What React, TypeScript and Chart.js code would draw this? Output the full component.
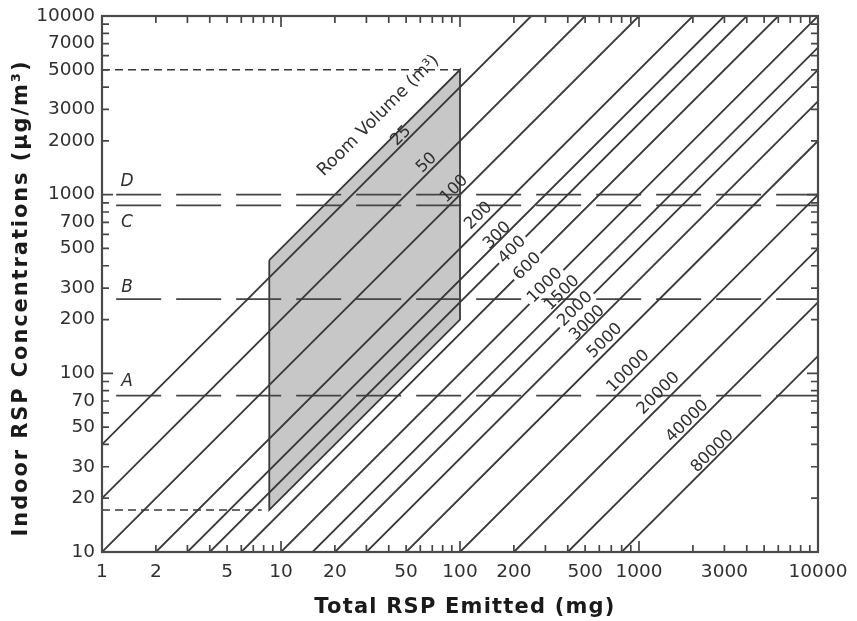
import { useEffect, useRef } from 'react';
import { Chart, registerables } from 'chart.js';

Chart.register(...registerables);

// Room volumes (m³) for the iso-volume lines
const roomVolumes = [25, 50, 100, 200, 300, 400, 600, 1000, 1500, 2000, 3000, 5000, 10000, 20000, 40000, 80000];
// Emitted mass (mg) along each volume line at which its label sits
const volumeLabelAtMg = [50, 70, 100, 139, 169, 196, 238, 304, 396, 449, 543, 700, 946, 1408, 2004, 2742];

// Reference concentration levels (µg/m³)
const levelNames = ['A', 'B', 'C', 'D'];
const levelValues = [75, 260, 870, 1000];

// Shaded band: emitted mass range (mg) and room volume range (m³)
const emittedRange = [8.6, 100];
const volumeRange = [20, 500];
// Where the short dashed guides end (mg): upper guide, lower guide
const guideEndMg = [100, 7.8];

// Axis tick labels
const xTickValues = [1, 2, 5, 10, 20, 50, 100, 200, 500, 1000, 3000, 10000];
const yTickValues = [10, 20, 30, 50, 70, 100, 200, 300, 500, 700, 1000, 2000, 3000, 5000, 7000, 10000];

// µg/m³ produced by `mg` milligrams dispersed in `m3` cubic metres
const conc = (mg: number, m3: number) => (1000 * mg) / m3;
const mgFor = (c: number, m3: number) => (c * m3) / 1000;

// --- styling ---
const ink = '#383838';
const textInk = '#303030';
const fontFamily = '"DejaVu Sans", sans-serif';
const labelLift = [7, 8, 8, 10, 5, 0, 0, 2, 7, 2, 6, 9, 9, 10, 8, 7];
const levelLetterOffset = [-14, -12, 17, -13];
const levelLetterMg = 1.38;

const lineStyle = { showLine: true, pointRadius: 0, pointHoverRadius: 0, borderColor: ink, borderWidth: 1.8 };

function buildDatasets() {
  const [e0, e1] = emittedRange;
  const [vMin, vMax] = volumeRange;
  const region = [
    { x: e0, y: conc(e0, vMin) },
    { x: e1, y: conc(e1, vMin) },
    { x: e1, y: conc(e1, vMax) },
    { x: e0, y: conc(e0, vMax) },
    { x: e0, y: conc(e0, vMin) },
  ];
  const sets: any[] = [
    { ...lineStyle, data: region, fill: 'shape', backgroundColor: '#c7c7c7', order: 5 },
  ];
  roomVolumes.forEach((v) => {
    sets.push({ ...lineStyle, data: [{ x: mgFor(10, v), y: 10 }, { x: mgFor(10000, v), y: 10000 }], order: 1 });
  });
  levelValues.forEach((c) => {
    sets.push({ ...lineStyle, borderColor: '#444444', borderDash: [45, 15], data: [{ x: 1.2, y: c }, { x: 10000, y: c }], order: 2 });
  });
  const upper = conc(e1, vMin);
  const lower = conc(e0, vMax);
  sets.push({ ...lineStyle, borderWidth: 1.5, borderDash: [8, 5], data: [{ x: 1, y: upper }, { x: guideEndMg[0], y: upper }], order: 2 });
  sets.push({ ...lineStyle, borderWidth: 1.5, borderDash: [8, 5], data: [{ x: 1, y: lower }, { x: guideEndMg[1], y: lower }], order: 2 });
  return sets;
}

const overlay = {
  id: 'overlay',
  afterDatasetsDraw(chart: any) {
    const { ctx, chartArea: a, scales } = chart;
    const x = scales.x;
    const y = scales.y;
    ctx.save();

    // inward tick marks on all four sides
    ctx.strokeStyle = '#454545';
    ctx.lineWidth = 1.7;
    ctx.beginPath();
    for (let d = 1; d < 10000; d *= 10) {
      for (let m = 1; m <= 9; m++) {
        const v = d * m;
        if (v <= 1 || v >= 10000) continue;
        const px = x.getPixelForValue(v);
        const len = m === 1 ? 11 : 7;
        ctx.moveTo(px, a.bottom);
        ctx.lineTo(px, a.bottom - len);
        ctx.moveTo(px, a.top);
        ctx.lineTo(px, a.top + len);
      }
    }
    for (let d = 10; d < 10000; d *= 10) {
      for (let m = 1; m <= 9; m++) {
        const v = d * m;
        if (v <= 10 || v >= 10000) continue;
        const py = y.getPixelForValue(v);
        const len = m === 1 ? 11 : 7;
        ctx.moveTo(a.left, py);
        ctx.lineTo(a.left + len, py);
        ctx.moveTo(a.right, py);
        ctx.lineTo(a.right - len, py);
      }
    }
    ctx.stroke();

    // frame
    ctx.strokeStyle = '#4a4a4a';
    ctx.lineWidth = 2.2;
    ctx.strokeRect(a.left, a.top, a.right - a.left, a.bottom - a.top);

    // volume labels along each line
    ctx.font = `16.5px ${fontFamily}`;
    ctx.textAlign = 'center';
    ctx.textBaseline = 'middle';
    roomVolumes.forEach((v, i) => {
      const mg = volumeLabelAtMg[i];
      const px = x.getPixelForValue(mg);
      const py = y.getPixelForValue(conc(mg, v));
      const qx = x.getPixelForValue(mg * 10);
      const qy = y.getPixelForValue(conc(mg * 10, v));
      const ang = Math.atan2(qy - py, qx - px);
      const lift = labelLift[i];
      const txt = String(v);
      ctx.save();
      ctx.translate(px, py);
      ctx.rotate(ang);
      if (lift < 3) {
        const w = ctx.measureText(txt).width;
        ctx.fillStyle = '#ffffff';
        ctx.fillRect(-w / 2 - 3, -lift - 7, w + 6, 14);
      }
      ctx.fillStyle = textInk;
      ctx.fillText(txt, 0, -lift);
      ctx.restore();
    });

    // band caption along its upper edge
    {
      const mg = 44;
      const v = volumeRange[0];
      const px = x.getPixelForValue(mg);
      const py = y.getPixelForValue(conc(mg, v));
      const qx = x.getPixelForValue(mg * 10);
      const qy = y.getPixelForValue(conc(mg * 10, v));
      ctx.save();
      ctx.translate(px, py);
      ctx.rotate(Math.atan2(qy - py, qx - px));
      ctx.font = `17.5px ${fontFamily}`;
      ctx.fillStyle = textInk;
      ctx.fillText('Room Volume (m³)', 0, -25);
      ctx.restore();
    }

    // level letters
    ctx.font = `italic 17px ${fontFamily}`;
    ctx.fillStyle = textInk;
    levelNames.forEach((n, i) => {
      const px = x.getPixelForValue(levelLetterMg);
      const py = y.getPixelForValue(levelValues[i]) + levelLetterOffset[i];
      ctx.fillText(n, px, py);
    });

    // axis titles
    ctx.fillStyle = '#1a1a1a';
    ctx.font = `bold 21px ${fontFamily}`;
    (ctx as any).letterSpacing = '1.2px';
    ctx.fillText('Total RSP Emitted (mg)', 465, 608);
    ctx.save();
    ctx.translate(22, 298);
    ctx.rotate(-Math.PI / 2);
    (ctx as any).letterSpacing = '1.9px';
    ctx.fillText('Indoor RSP Concentrations (μg/m³)', 0, 0);
    ctx.restore();

    ctx.restore();
  },
};

const tickFont = { family: fontFamily, size: 18.5 };

export default function App() {
  const ref = useRef<HTMLCanvasElement>(null);

  useEffect(() => {
    const chart = new Chart(ref.current as HTMLCanvasElement, {
      type: 'scatter',
      data: { datasets: buildDatasets() },
      options: {
        responsive: false,
        animation: false,
        devicePixelRatio: 1,
        layout: { padding: { left: 0, top: 16, right: 39, bottom: 0 } },
        plugins: { legend: { display: false }, tooltip: { enabled: false } },
        scales: {
          x: {
            type: 'logarithmic',
            min: 1,
            max: 10000,
            afterBuildTicks: (s: any) => {
              s.ticks = xTickValues.map((value) => ({ value }));
            },
            afterFit: (s: any) => {
              s.height = 69;
              s.paddingLeft = 0;
              s.paddingRight = 0;
            },
            grid: { display: false, drawTicks: false },
            border: { display: false },
            ticks: {
              autoSkip: false,
              maxRotation: 0,
              minRotation: 0,
              padding: 9,
              color: textInk,
              font: tickFont,
              callback: (v: any) => String(v),
            },
          },
          y: {
            type: 'logarithmic',
            min: 10,
            max: 10000,
            afterBuildTicks: (s: any) => {
              s.ticks = yTickValues.map((value) => ({ value }));
            },
            afterFit: (s: any) => {
              s.width = 102;
              s.paddingTop = 0;
              s.paddingBottom = 0;
            },
            grid: { display: false, drawTicks: false },
            border: { display: false },
            ticks: {
              autoSkip: false,
              padding: 7,
              color: textInk,
              font: tickFont,
              callback: (v: any) => String(v),
            },
          },
        },
      } as any,
      plugins: [overlay],
    });
    return () => chart.destroy();
  }, []);

  return (
    <div style={{ position: 'fixed', left: 0, top: 0, width: 857, height: 621, background: '#ffffff' }}>
      <canvas ref={ref} width={857} height={621} style={{ display: 'block', width: 857, height: 621 }} />
    </div>
  );
}
